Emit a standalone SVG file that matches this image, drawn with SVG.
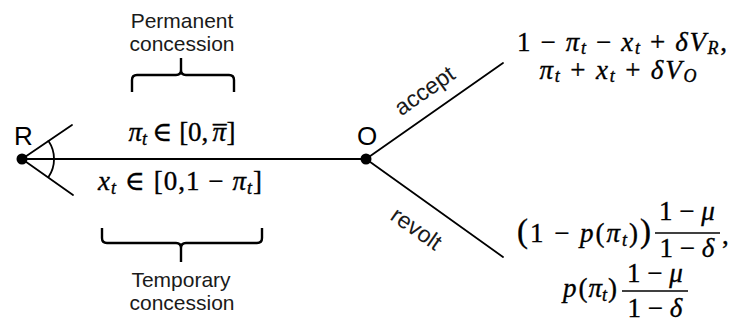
<svg xmlns="http://www.w3.org/2000/svg" width="732" height="326" viewBox="0 0 732 326">
<style>
.ln{stroke:#000;stroke-width:1.8;fill:none;stroke-linecap:round}
.br{stroke:#000;stroke-width:2.4;fill:none;stroke-linejoin:round}
.lab{font-family:"Liberation Sans",Arial,sans-serif;font-size:21px;fill:#1a1a1a}
.edge{font-family:"Liberation Sans",Arial,sans-serif;font-size:23px;fill:#1a1a1a}
.node{font-family:"Liberation Sans",Arial,sans-serif;font-size:26px;fill:#000}
.m{font-family:"Liberation Serif","DejaVu Serif",serif;font-size:27px;fill:#000;stroke:#000;stroke-width:0.35}
.i{font-style:italic}
.s{font-size:18px;font-style:italic}
</style>
<rect width="732" height="326" fill="#fff"/>
<g id="connectors">
<line class="ln" x1="22" y1="159" x2="366" y2="159"/>
<line class="ln" x1="22" y1="159" x2="72" y2="125"/>
<line class="ln" x1="22" y1="159" x2="73" y2="195"/>
<path class="ln" d="M48.5,141 A32,32 0 0 1 48.5,177"/>
<line class="ln" x1="366" y1="159" x2="503" y2="63"/>
<line class="ln" x1="366" y1="159" x2="503" y2="257"/>
<text class="edge" transform="translate(429,97) rotate(-35)" text-anchor="middle">accept</text>
<text class="edge" transform="translate(412,235) rotate(35)" text-anchor="middle">revolt</text>
</g>
<g id="node-R">
<circle cx="22" cy="159" r="5.5" fill="#000"/>
<text class="node" x="14" y="145">R</text>
</g>
<g id="node-O">
<circle cx="366" cy="159" r="5.5" fill="#000"/>
<text class="node" x="367" y="145" text-anchor="middle">O</text>
</g>
<g id="permanent">
<text class="lab" x="182" y="28" text-anchor="middle">Permanent</text>
<text class="lab" x="182" y="51" text-anchor="middle">concession</text>
<path class="br" d="M132,92 V80 Q132,75 137,75 H176 Q181,75 181,70 V58 M181,70 Q181,75 186,75 H229 Q234,75 234,80 V92"/>
<text class="m" x="182" y="141" text-anchor="middle"><tspan class="i">π</tspan><tspan class="s" dy="4">t</tspan><tspan dy="-4" dx="5">∈</tspan><tspan dx="7">[0,</tspan><tspan class="i" dx="4">π</tspan><tspan dx="-13" dy="4">¯</tspan><tspan dy="-4" dx="0">]</tspan></text>
</g>
<g id="temporary">
<text class="m" x="180" y="190" text-anchor="middle" textLength="164" lengthAdjust="spacing"><tspan class="i">x</tspan><tspan class="s" dy="4">t</tspan><tspan dy="-4"> ∈ [0,1 − </tspan><tspan class="i">π</tspan><tspan class="s" dy="4">t</tspan><tspan dy="-4">]</tspan></text>
<path class="br" d="M102,228 V238 Q102,243 107,243 H176 Q181,243 181,248 V262 M181,248 Q181,243 186,243 H257 Q262,243 262,238 V228"/>
<text class="lab" x="181" y="287" text-anchor="middle">Temporary</text>
<text class="lab" x="182" y="310" text-anchor="middle">concession</text>
</g>
<g id="payoff-accept">
<text class="m" x="622" y="51" text-anchor="middle" textLength="210" lengthAdjust="spacing">1 − <tspan class="i">π</tspan><tspan class="s" dy="3">t</tspan><tspan dy="-3"> − </tspan><tspan class="i">x</tspan><tspan class="s" dy="3">t</tspan><tspan dy="-3"> + </tspan><tspan class="i">δV</tspan><tspan class="s" dy="3">R</tspan><tspan dy="-3">,</tspan></text>
<text class="m" x="618" y="79" text-anchor="middle" textLength="157" lengthAdjust="spacing"><tspan class="i">π</tspan><tspan class="s" dy="3">t</tspan><tspan dy="-3"> + </tspan><tspan class="i">x</tspan><tspan class="s" dy="3">t</tspan><tspan dy="-3"> + </tspan><tspan class="i">δV</tspan><tspan class="s" dy="3">O</tspan></text>
</g>
<g id="payoff-revolt">
<text class="m" x="517" y="242" textLength="134" lengthAdjust="spacing"><tspan font-size="33">(</tspan>1 − <tspan class="i">p</tspan>(<tspan class="i">π</tspan><tspan class="s" dy="4">t</tspan><tspan dy="-4">)</tspan><tspan font-size="33">)</tspan></text>
<text class="m" x="687" y="220" text-anchor="middle">1 − <tspan class="i">μ</tspan></text>
<line x1="655" y1="233" x2="720" y2="233" stroke="#000" stroke-width="1.5"/>
<text class="m" x="687" y="257" text-anchor="middle">1 − <tspan class="i">δ</tspan></text>
<text class="m" x="722" y="244">,</text>
<text class="m" x="563" y="297"><tspan class="i">p</tspan><tspan dx="2">(</tspan><tspan class="i" dx="1">π</tspan><tspan class="s" dy="4">t</tspan><tspan dy="-4" dx="1">)</tspan></text>
<text class="m" x="655" y="282" text-anchor="middle">1 − <tspan class="i">μ</tspan></text>
<line x1="622" y1="291" x2="688" y2="291" stroke="#000" stroke-width="1.5"/>
<text class="m" x="655" y="317" text-anchor="middle">1 − <tspan class="i">δ</tspan></text>
</g>
</svg>
